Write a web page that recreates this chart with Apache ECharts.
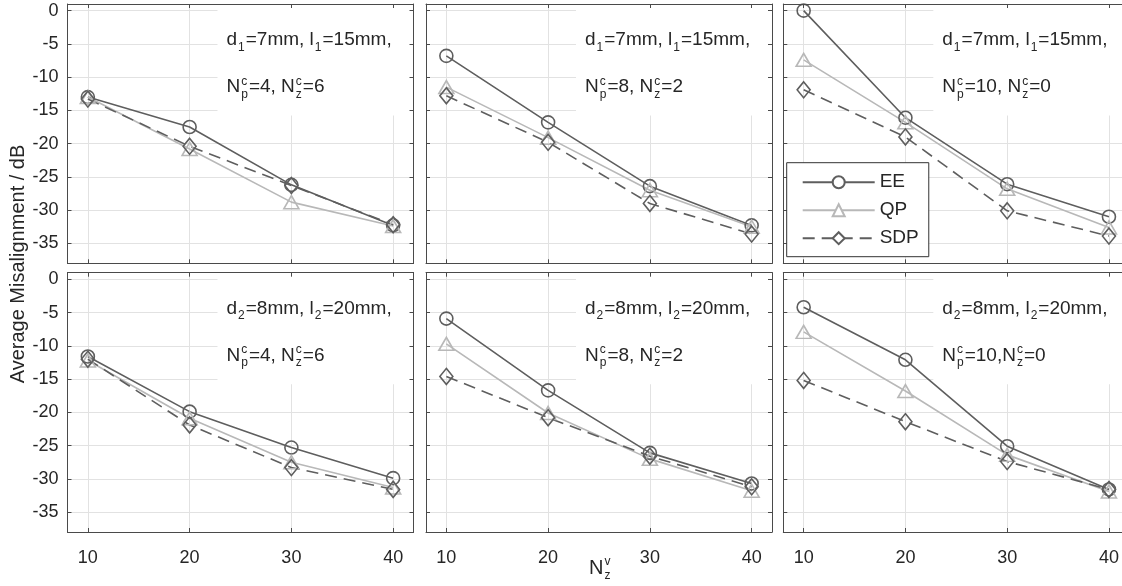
<!DOCTYPE html>
<html><head><meta charset="utf-8">
<script src="https://cdn.jsdelivr.net/npm/echarts@6/dist/echarts.min.js"></script>
<style>html,body{margin:0;padding:0;background:#fff}#c{width:1122px;height:586px}</style>
</head><body><div id="c"></div>
<script>
// ---------------- data ----------------
const xValues = [10, 20, 30, 40];
const seriesNames = ['EE', 'QP', 'SDP'];
// panels ordered row by row: top-left, top-middle, top-right, bottom-left, bottom-middle, bottom-right
const eeData = [
  [-13.0, -17.5, -26.2, -32.3],
  [-6.8, -16.8, -26.4, -32.3],
  [0.0, -16.1, -26.1, -31.0],
  [-11.6, -19.9, -25.3, -29.9],
  [-5.9, -16.7, -26.1, -30.7],
  [-4.2, -12.1, -25.1, -31.6]
];
const qpData = [
  [-13.0, -20.8, -28.8, -32.4],
  [-11.5, -19.1, -27.0, -32.5],
  [-7.4, -16.8, -26.8, -32.6],
  [-12.2, -20.9, -27.5, -31.3],
  [-9.7, -20.1, -27.0, -31.8],
  [-7.9, -16.8, -26.4, -31.9]
];
const sdpData = [
  [-13.3, -20.4, -26.3, -32.2],
  [-12.8, -19.8, -29.0, -33.6],
  [-11.9, -19.0, -30.1, -33.9],
  [-12.0, -21.9, -28.3, -31.6],
  [-14.6, -20.8, -26.6, -31.2],
  [-15.2, -21.4, -27.4, -31.6]
];
const annotLine1 = [
  'd_{1}=7mm, l_{1}=15mm,', 'd_{1}=7mm, l_{1}=15mm,', 'd_{1}=7mm, l_{1}=15mm,',
  'd_{2}=8mm, l_{2}=20mm,', 'd_{2}=8mm, l_{2}=20mm,', 'd_{2}=8mm, l_{2}=20mm,'
];
const annotLine2 = [
  'N^{c}_{p}=4, N^{c}_{z}=6', 'N^{c}_{p}=8, N^{c}_{z}=2', 'N^{c}_{p}=10, N^{c}_{z}=0',
  'N^{c}_{p}=4, N^{c}_{z}=6', 'N^{c}_{p}=8, N^{c}_{z}=2', 'N^{c}_{p}=10,N^{c}_{z}=0'
];
const yAxisTitle = 'Average Misalignment / dB';
const xAxisTitle = 'N^{v}_{z}';
const xRange = [8, 42];
const yRange = [-38, 1];

// ---------------- styles / layout ----------------
const FONT = '"Liberation Sans", Arial, Helvetica, sans-serif';
const TEXT = '#262626';
const AXIS = '#4a4a4a';
const GRIDC = '#e2e2e2';
const DARK = '#5e5e5e';
const LIGHT = '#b8b8b8';
const colLeft = [67.5, 426, 783.3];
const rowTop = [4, 272.7];
const PW = 346, PH = 259.3;
const styles = {
  EE: {symbol: 'circle', size: 13, color: DARK, type: 'solid'},
  QP: {symbol: 'triangle', size: [15, 13], color: LIGHT, type: 'solid'},
  SDP: {symbol: 'diamond', size: [13, 16], color: DARK, type: [12, 7]}
};
const allData = {EE: eeData, QP: qpData, SDP: sdpData};

const ctx = document.createElement('canvas').getContext('2d');
function tw(t, size) { ctx.font = size + 'px ' + FONT; return ctx.measureText(t).width; }
function parseMath(str) {
  const toks = []; let i = 0; let buf = '';
  while (i < str.length) {
    const ch = str[i];
    if ((ch === '^' || ch === '_') && str[i + 1] === '{') {
      if (buf) { toks.push({type: 't', t: buf}); buf = ''; }
      const end = str.indexOf('}', i);
      toks.push({type: ch === '^' ? 'sup' : 'sub', t: str.slice(i + 2, end)});
      i = end + 1;
    } else { buf += ch; i++; }
  }
  if (buf) toks.push({type: 't', t: buf});
  return toks;
}
function txt(x, y, t, size, z) {
  return {type: 'text', x: x, y: y, z: z, silent: true,
    style: {text: t, fill: TEXT, fontSize: size, fontFamily: FONT, align: 'left', verticalAlign: 'middle'}};
}
function mathEls(x0, y, str, size, z) {
  const els = []; let x = x0; const small = Math.round(size * 0.62);
  const toks = parseMath(str);
  for (let k = 0; k < toks.length; k++) {
    const tk = toks[k];
    if (tk.type === 't') { els.push(txt(x, y, tk.t, size, z)); x += tw(tk.t, size); }
    else {
      const group = [tk];
      if (k + 1 < toks.length && toks[k + 1].type !== 't' && toks[k + 1].type !== tk.type) { group.push(toks[k + 1]); k++; }
      let w = 0;
      group.forEach(g => {
        const dy = g.type === 'sup' ? -0.3 * size : 0.38 * size;
        els.push(txt(x + 1, y + dy, g.t, small, z));
        w = Math.max(w, tw(g.t, small));
      });
      x += w + 2;
    }
  }
  return {els: els, width: x - x0};
}

const grids = [], xAxes = [], yAxes = [], series = [], graphics = [];
for (let i = 0; i < 6; i++) {
  const r = Math.floor(i / 3), c = i % 3;
  const left = colLeft[c], top = rowTop[r];
  grids.push({left: left, top: top, width: PW, height: PH, outerBoundsMode: 'none', containLabel: false});
  const common = {gridIndex: i, type: 'value', axisLine: {show: true, onZero: false, lineStyle: {color: AXIS, width: 1}},
    axisTick: {show: true, inside: true, length: 4, lineStyle: {color: AXIS}}};
  xAxes.push(Object.assign({}, common, {position: 'bottom', min: xRange[0], max: xRange[1], splitNumber: 4, z: 0,
    axisLabel: {show: r === 1, margin: 17, fontSize: 18, fontFamily: FONT, color: TEXT,
      formatter: v => (v % 10 === 0 ? String(v) : '')},
    splitLine: {show: true, lineStyle: {color: GRIDC, width: 1}}}));
  xAxes.push(Object.assign({}, common, {position: 'top', min: xRange[0], max: xRange[1], splitNumber: 4, z: 3,
    axisLabel: {show: false}, splitLine: {show: false}}));
  yAxes.push(Object.assign({}, common, {position: 'left', min: yRange[0], max: yRange[1], splitNumber: 8, z: 0,
    axisLabel: {show: c === 0, margin: 9, fontSize: 18, fontFamily: FONT, color: TEXT,
      formatter: v => (v % 5 === 0 ? String(v) : '')},
    splitLine: {show: true, lineStyle: {color: GRIDC, width: 1}}}));
  yAxes.push(Object.assign({}, common, {position: 'right', min: yRange[0], max: yRange[1], splitNumber: 8, z: 3,
    axisLabel: {show: false}, splitLine: {show: false}}));
  seriesNames.forEach(name => {
    const st = styles[name];
    series.push({
      type: 'line', name: name, xAxisIndex: 2 * i, yAxisIndex: 2 * i, z: 2, silent: true,
      data: xValues.map((x, k) => [x, allData[name][i][k]]),
      symbol: st.symbol, symbolSize: st.size,
      itemStyle: {color: 'none', borderColor: st.color, borderWidth: 1.6},
      lineStyle: {color: st.color, width: 1.6, type: st.type},
      emphasis: {disabled: true}
    });
  });
  // annotation background box and text
  graphics.push({type: 'rect', z: 1, silent: true, shape: {x: left + 150, y: top + 0.5, width: PW - 150, height: 111},
    style: {fill: '#fff'}});
  mathEls(left + 159, top + 36, annotLine1[i], 19, 5).els.forEach(e => graphics.push(e));
  mathEls(left + 159, top + 83, annotLine2[i], 19, 5).els.forEach(e => graphics.push(e));
}
// axis titles
graphics.push({type: 'text', x: 18, y: 264, z: 5, rotation: Math.PI / 2, silent: true,
  style: {text: yAxisTitle, fill: TEXT, fontSize: 20, fontFamily: FONT, align: 'center', verticalAlign: 'middle'}});
mathEls(589, 568, xAxisTitle, 20, 5).els.forEach(e => graphics.push(e));

const chart = echarts.init(document.getElementById('c'), null, {renderer: 'canvas'});
chart.setOption({
  animation: false,
  backgroundColor: '#fff',
  grid: grids, xAxis: xAxes, yAxis: yAxes, series: series,
  legend: {data: seriesNames, orient: 'vertical', left: 786.7, top: 162.7, itemWidth: 72, itemHeight: 15, itemGap: 9,
    padding: [10, 10, 9, 15], backgroundColor: '#fff', borderColor: '#333', borderWidth: 1, borderRadius: 0,
    textStyle: {fontSize: 19, fontFamily: FONT, color: TEXT}, itemStyle: {color: '#fff'}, z: 10,
    selectedMode: false},
  graphic: graphics
});
</script></body></html>
